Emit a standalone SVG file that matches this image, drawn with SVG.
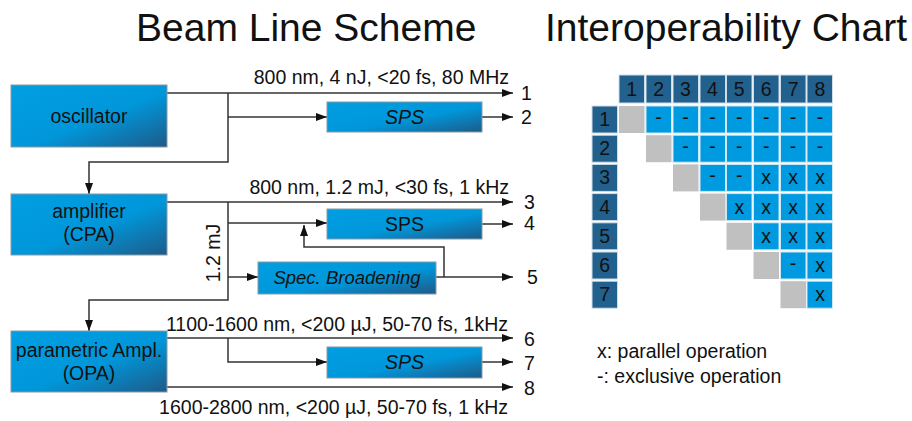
<svg xmlns="http://www.w3.org/2000/svg" width="912" height="421" viewBox="0 0 912 421">
<defs>
<linearGradient id="g" x1="0" y1="0" x2="1" y2="1">
<stop offset="0" stop-color="#009ee2"/>
<stop offset="0.55" stop-color="#0097da"/>
<stop offset="1" stop-color="#1e5a88"/>
</linearGradient>
<marker id="ah" markerUnits="userSpaceOnUse" markerWidth="12" markerHeight="9" refX="11" refY="4" orient="auto">
<path d="M0,0 L11,4 L0,8 z" fill="#111"/>
</marker>
<style>
text{font-family:"Liberation Sans",Arial,sans-serif;fill:#111}
.t{font-size:39px}
.l{font-size:19.5px}
.c{text-anchor:middle}
.it{font-style:italic}
.box{fill:url(#g);stroke:#8a9aa6;stroke-width:1}
.ln{fill:none;stroke:#333;stroke-width:1.5}
.ar{marker-end:url(#ah)}
.hd{fill:#22608e;stroke:#cfdde8;stroke-width:1}
.bl{fill:#009ae0;stroke:#cfe6f3;stroke-width:1}
.gr{fill:#c0c0c0}
.ct{font-size:19.5px;text-anchor:middle}
</style>
</defs>
<rect width="912" height="421" fill="#fff"/>
<text class="t" x="136" y="41">Beam Line Scheme</text>
<text class="t" x="545" y="41">Interoperability Chart</text>

<g id="connectors">
<path class="ln ar" d="M167,93 H513"/>
<path class="ln ar" d="M228,93 V162 H89 V194"/>
<path class="ln ar" d="M228,117 H327"/>
<path class="ln ar" d="M482,117 H513"/>
<path class="ln ar" d="M167,202 H513"/>
<path class="ln ar" d="M228,202 V300 H89 V331"/>
<path class="ln ar" d="M228,223 H327"/>
<path class="ln ar" d="M228,277 H258"/>
<path class="ln ar" d="M482,224 H513"/>
<path class="ln ar" d="M436,277 H513"/>
<path class="ln ar" d="M444,277 V247 H304 V225"/>
<path class="ln ar" d="M167,338 H513"/>
<path class="ln ar" d="M228,338 V362 H327"/>
<path class="ln ar" d="M482,362 H513"/>
<path class="ln ar" d="M167,387 H513"/>
</g>

<g id="labels">
<text class="l" x="509" y="84" text-anchor="end">800 nm, 4 nJ, &lt;20 fs, 80 MHz</text>
<text class="l" x="509" y="194" text-anchor="end">800 nm, 1.2 mJ, &lt;30 fs, 1 kHz</text>
<text class="l" x="508" y="331" text-anchor="end">1100-1600 nm, &lt;200 µJ, 50-70 fs, 1kHz</text>
<text class="l" x="508" y="414" text-anchor="end">1600-2800 nm, &lt;200 µJ, 50-70 fs, 1 kHz</text>
<text class="l c" transform="translate(220,253) rotate(-90)">1.2 mJ</text>
<text class="l" x="521" y="100">1</text>
<text class="l" x="521" y="124">2</text>
<text class="l" x="524" y="209">3</text>
<text class="l" x="524" y="230">4</text>
<text class="l" x="527" y="284">5</text>
<text class="l" x="524" y="346">6</text>
<text class="l" x="524" y="370">7</text>
<text class="l" x="524" y="395">8</text>
</g>

<g id="oscillator"><rect class="box" x="11" y="85" width="156" height="62"/><text class="l c" x="89" y="123">oscillator</text></g>
<g id="sps1"><rect class="box" x="327" y="102" width="155" height="30"/><text class="l c it" x="404.5" y="124">SPS</text></g>
<g id="amplifier"><rect class="box" x="11" y="194" width="156" height="61"/><text class="l c" x="89" y="218">amplifier</text><text class="l c" x="89" y="241">(CPA)</text></g>
<g id="sps2"><rect class="box" x="327" y="209" width="155" height="30"/><text class="l c" x="404.5" y="231">SPS</text></g>
<g id="broadening"><rect class="box" x="258" y="262" width="178" height="32"/><text class="l c it" x="347" y="284" style="font-size:18.5px">Spec. Broadening</text></g>
<g id="opa"><rect class="box" x="11" y="331" width="156" height="61"/><text class="l c" x="89" y="357">parametric Ampl.</text><text class="l c" x="89" y="380">(OPA)</text></g>
<g id="sps3"><rect class="box" x="327" y="347" width="155" height="31"/><text class="l c it" x="404.5" y="369">SPS</text></g>

<g id="chart">
<rect class="hd" x="619" y="75" width="25.5" height="28"/><text class="ct" x="631.7" y="96">1</text>
<rect class="hd" x="646" y="75" width="25.5" height="28"/><text class="ct" x="658.6" y="96">2</text>
<rect class="hd" x="673" y="75" width="25.5" height="28"/><text class="ct" x="685.5" y="96">3</text>
<rect class="hd" x="700" y="75" width="25.5" height="28"/><text class="ct" x="712.4" y="96">4</text>
<rect class="hd" x="726.5" y="75" width="25.5" height="28"/><text class="ct" x="739.3" y="96">5</text>
<rect class="hd" x="753.5" y="75" width="25.5" height="28"/><text class="ct" x="766.2" y="96">6</text>
<rect class="hd" x="780.5" y="75" width="25.5" height="28"/><text class="ct" x="793.1" y="96">7</text>
<rect class="hd" x="807" y="75" width="25.5" height="28"/><text class="ct" x="820" y="96">8</text>

<rect class="hd" x="592" y="106" width="25.5" height="27"/><text class="ct" x="604.8" y="126">1</text>
<rect class="hd" x="592" y="135.2" width="25.5" height="27"/><text class="ct" x="604.8" y="155.2">2</text>
<rect class="hd" x="592" y="164.4" width="25.5" height="27"/><text class="ct" x="604.8" y="184.4">3</text>
<rect class="hd" x="592" y="193.6" width="25.5" height="27"/><text class="ct" x="604.8" y="213.6">4</text>
<rect class="hd" x="592" y="222.8" width="25.5" height="27"/><text class="ct" x="604.8" y="242.8">5</text>
<rect class="hd" x="592" y="252" width="25.5" height="27"/><text class="ct" x="604.8" y="272">6</text>
<rect class="hd" x="592" y="281.2" width="25.5" height="27"/><text class="ct" x="604.8" y="301.2">7</text>

<!-- row 1 -->
<rect class="gr" x="619" y="106" width="25.5" height="27"/>
<rect class="bl" x="646" y="106" width="25.5" height="27"/><text class="ct" x="658.6" y="124">-</text>
<rect class="bl" x="673" y="106" width="25.5" height="27"/><text class="ct" x="685.5" y="124">-</text>
<rect class="bl" x="700" y="106" width="25.5" height="27"/><text class="ct" x="712.4" y="124">-</text>
<rect class="bl" x="726.5" y="106" width="25.5" height="27"/><text class="ct" x="739.3" y="124">-</text>
<rect class="bl" x="753.5" y="106" width="25.5" height="27"/><text class="ct" x="766.2" y="124">-</text>
<rect class="bl" x="780.5" y="106" width="25.5" height="27"/><text class="ct" x="793.1" y="124">-</text>
<rect class="bl" x="807" y="106" width="25.5" height="27"/><text class="ct" x="820" y="124">-</text>
<!-- row 2 -->
<rect class="gr" x="646" y="135.2" width="25.5" height="27"/>
<rect class="bl" x="673" y="135.2" width="25.5" height="27"/><text class="ct" x="685.5" y="153.2">-</text>
<rect class="bl" x="700" y="135.2" width="25.5" height="27"/><text class="ct" x="712.4" y="153.2">-</text>
<rect class="bl" x="726.5" y="135.2" width="25.5" height="27"/><text class="ct" x="739.3" y="153.2">-</text>
<rect class="bl" x="753.5" y="135.2" width="25.5" height="27"/><text class="ct" x="766.2" y="153.2">-</text>
<rect class="bl" x="780.5" y="135.2" width="25.5" height="27"/><text class="ct" x="793.1" y="153.2">-</text>
<rect class="bl" x="807" y="135.2" width="25.5" height="27"/><text class="ct" x="820" y="153.2">-</text>
<!-- row 3 -->
<rect class="gr" x="673" y="164.4" width="25.5" height="27"/>
<rect class="bl" x="700" y="164.4" width="25.5" height="27"/><text class="ct" x="712.4" y="182.4">-</text>
<rect class="bl" x="726.5" y="164.4" width="25.5" height="27"/><text class="ct" x="739.3" y="182.4">-</text>
<rect class="bl" x="753.5" y="164.4" width="25.5" height="27"/><text class="ct" x="766.2" y="184.4">x</text>
<rect class="bl" x="780.5" y="164.4" width="25.5" height="27"/><text class="ct" x="793.1" y="184.4">x</text>
<rect class="bl" x="807" y="164.4" width="25.5" height="27"/><text class="ct" x="820" y="184.4">x</text>
<!-- row 4 -->
<rect class="gr" x="700" y="193.6" width="25.5" height="27"/>
<rect class="bl" x="726.5" y="193.6" width="25.5" height="27"/><text class="ct" x="739.3" y="213.6">x</text>
<rect class="bl" x="753.5" y="193.6" width="25.5" height="27"/><text class="ct" x="766.2" y="213.6">x</text>
<rect class="bl" x="780.5" y="193.6" width="25.5" height="27"/><text class="ct" x="793.1" y="213.6">x</text>
<rect class="bl" x="807" y="193.6" width="25.5" height="27"/><text class="ct" x="820" y="213.6">x</text>
<!-- row 5 -->
<rect class="gr" x="726.5" y="222.8" width="25.5" height="27"/>
<rect class="bl" x="753.5" y="222.8" width="25.5" height="27"/><text class="ct" x="766.2" y="242.8">x</text>
<rect class="bl" x="780.5" y="222.8" width="25.5" height="27"/><text class="ct" x="793.1" y="242.8">x</text>
<rect class="bl" x="807" y="222.8" width="25.5" height="27"/><text class="ct" x="820" y="242.8">x</text>
<!-- row 6 -->
<rect class="gr" x="753.5" y="252" width="25.5" height="27"/>
<rect class="bl" x="780.5" y="252" width="25.5" height="27"/><text class="ct" x="793.1" y="270">-</text>
<rect class="bl" x="807" y="252" width="25.5" height="27"/><text class="ct" x="820" y="272">x</text>
<!-- row 7 -->
<rect class="gr" x="780.5" y="281.2" width="25.5" height="27"/>
<rect class="bl" x="807" y="281.2" width="25.5" height="27"/><text class="ct" x="820" y="301.2">x</text>
</g>

<g id="legend">
<text class="l" x="597" y="358">x: parallel operation</text>
<text class="l" x="597" y="383">-: exclusive operation</text>
</g>
</svg>
